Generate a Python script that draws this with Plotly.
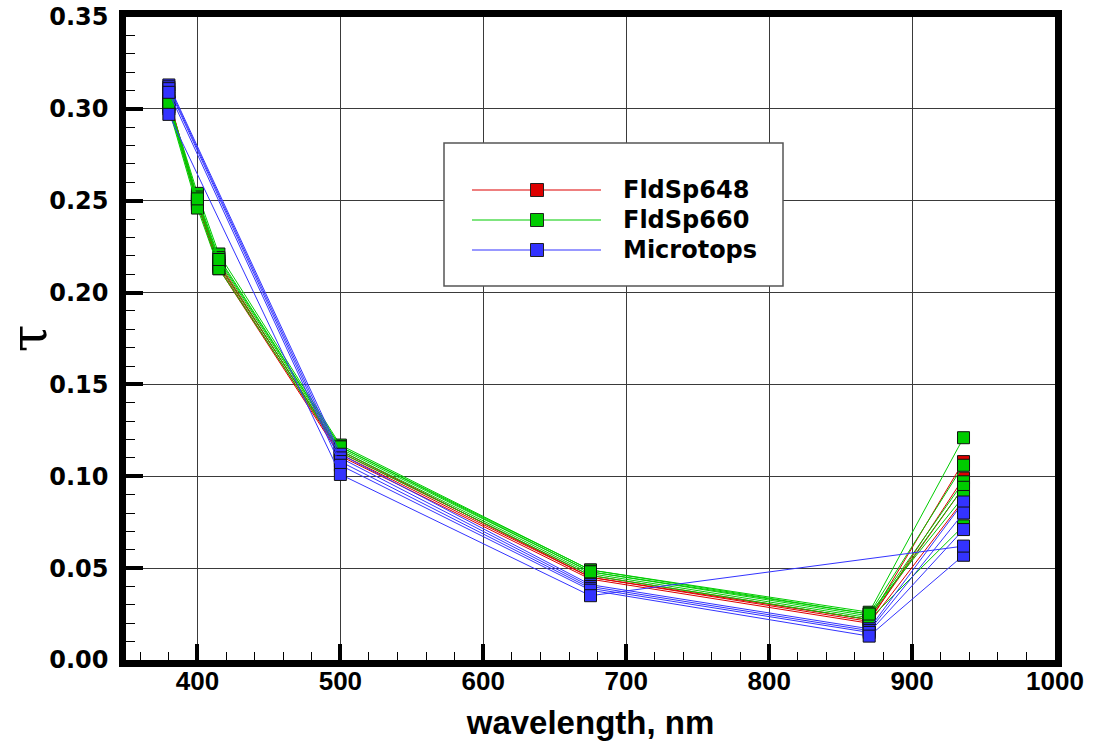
import plotly.graph_objects as go

# ---------------- data ----------------
wl_fieldspec = [380, 400, 415, 500, 675, 870, 936]
wl_microtops = [380, 500, 675, 870, 936]

fldsp648_runs = [
    [0.305, 0.251, 0.216, 0.113, 0.046, 0.022, 0.108],
    [0.304, 0.249, 0.214, 0.112, 0.045, 0.021, 0.099],
    [0.303, 0.248, 0.213, 0.111, 0.044, 0.020, 0.087],
    [0.306, 0.250, 0.215, 0.114, 0.045, 0.022, 0.094],
]
fldsp660_runs = [
    [0.304, 0.254, 0.221, 0.117, 0.049, 0.026, 0.121],
    [0.303, 0.252, 0.219, 0.116, 0.049, 0.025, 0.106],
    [0.302, 0.250, 0.217, 0.115, 0.048, 0.024, 0.097],
    [0.301, 0.248, 0.215, 0.114, 0.047, 0.023, 0.094],
    [0.300, 0.246, 0.213, 0.113, 0.046, 0.022, 0.073],
    [0.303, 0.251, 0.218, 0.116, 0.048, 0.025, 0.089],
]
microtops_runs = [
    [0.313, 0.112, 0.041, 0.017, 0.086],
    [0.312, 0.110, 0.040, 0.016, 0.080],
    [0.311, 0.108, 0.039, 0.015, 0.071],
    [0.309, 0.106, 0.038, 0.013, 0.057],
    [0.297, 0.101, 0.035, None, 0.062],
]

series_names = ["FldSp648", "FldSp660", "Microtops"]
series_colors = ["#dd0000", "#00cc00", "#3333ff"]

x_ticks = [400, 500, 600, 700, 800, 900, 1000]
y_ticks = [0.00, 0.05, 0.10, 0.15, 0.20, 0.25, 0.30, 0.35]

# ---------------- figure ----------------
W, H = 1095, 742
ML, MR, MT, MB = 126, 40, 17, 82

fig = go.Figure()

groups = [
    (wl_fieldspec, fldsp648_runs, 0),
    (wl_fieldspec, fldsp660_runs, 1),
    (wl_microtops, microtops_runs, 2),
]
for wl, runs, k in groups:
    for run in runs:
        fig.add_trace(go.Scatter(
            x=wl, y=run, mode="lines+markers",
            name=series_names[k], showlegend=False, connectgaps=True,
            line=dict(color=series_colors[k], width=1),
            marker=dict(symbol="square", size=12, color=series_colors[k],
                        line=dict(color="#111111", width=1)),
        ))

# ---------- manual legend (paper coordinates from pixel positions) ----------
PW, PH = W - ML - MR, H - MT - MB


def px(xp):
    return (xp - ML) / PW


def py(yp):
    return (H - MB - yp) / PH


shapes = [dict(type="rect", xref="paper", yref="paper",
               x0=px(444), x1=px(783), y0=py(286), y1=py(143),
               line=dict(color="#555555", width=1.5), fillcolor="white", layer="above")]
annotations = []
rows = [190, 220, 250]
for k, name in enumerate(series_names):
    yr = rows[k]
    shapes.append(dict(type="line", xref="paper", yref="paper",
                       x0=px(472), x1=px(601), y0=py(yr), y1=py(yr),
                       line=dict(color=series_colors[k], width=1.2), layer="above"))
    shapes.append(dict(type="rect", xref="paper", yref="paper",
                       x0=px(530.5), x1=px(543.5), y0=py(yr + 6.5), y1=py(yr - 6.5),
                       line=dict(color="#222222", width=1), fillcolor=series_colors[k],
                       layer="above"))
    annotations.append(dict(xref="paper", yref="paper", x=px(621), y=py(yr),
                            xanchor="left", yanchor="middle", showarrow=False,
                            text=name,
                            font=dict(family="DejaVu Sans", size=24, color="black",
                                      weight="bold")))

fig.update_layout(
    width=W, height=H,
    margin=dict(l=ML, r=MR, t=MT, b=MB, autoexpand=False),
    paper_bgcolor="white", plot_bgcolor="white",
    shapes=shapes, annotations=annotations,
    showlegend=False,
)

fig.update_xaxes(
    range=[350, 1000], tickvals=x_ticks, automargin=False,
    showline=True, linewidth=6.5, linecolor="black", mirror=True,
    ticks="inside", ticklen=16, tickwidth=3.5, tickcolor="black",
    ticklabelstandoff=-8,
    minor=dict(dtick=20, tick0=0, ticks="inside", ticklen=8, tickwidth=1,
               tickcolor="black", showgrid=False),
    showgrid=True, gridcolor="#3a3a3a", gridwidth=1,
    zeroline=False,
    tickfont=dict(family="Liberation Sans", size=26, color="black", weight="bold"),
    title=dict(text="wavelength, nm", standoff=18,
               font=dict(family="Liberation Sans", size=33, color="black", weight="bold")),
)
fig.update_yaxes(
    range=[0, 0.35], tickvals=y_ticks, tickformat=".2f", automargin=False,
    showline=True, linewidth=6.5, linecolor="black", mirror=True,
    ticks="inside", ticklen=17, tickwidth=3.5, tickcolor="black",
    ticklabelstandoff=6,
    minor=dict(dtick=0.01, tick0=0, ticks="inside", ticklen=9, tickwidth=1,
               tickcolor="black", showgrid=False),
    showgrid=True, gridcolor="#3a3a3a", gridwidth=1,
    zeroline=False,
    tickfont=dict(family="DejaVu Sans", size=24, color="black", weight="bold"),
    title=dict(text="τ", standoff=14,
               font=dict(family="DejaVu Serif", size=50, color="black")),
)

fig.write_html("out.html")
